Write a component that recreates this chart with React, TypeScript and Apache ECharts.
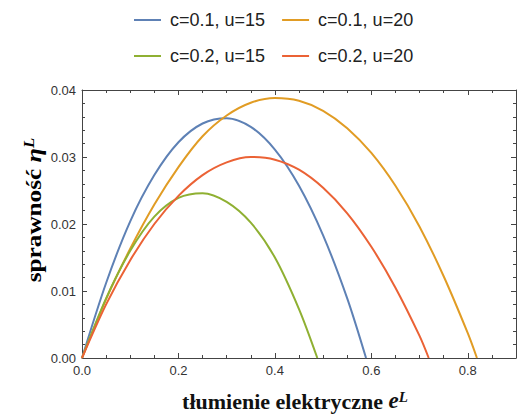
import React, { useEffect, useRef } from 'react';
import * as echarts from 'echarts';

const seriesNames = ['c=0.1, u=15', 'c=0.1, u=20', 'c=0.2, u=15', 'c=0.2, u=20'];
const seriesColors = ['#5E81B5', '#E19C24', '#8FB032', '#EB6235'];

// c=0.1, u=15
const eBlue = [0, 0.05, 0.1, 0.15, 0.2, 0.25, 0.3, 0.35, 0.4, 0.45, 0.5, 0.55, 0.589];
const etaBlue = [0, 0.0112, 0.0204, 0.0273, 0.0322, 0.035, 0.0358, 0.0345, 0.0311, 0.0257, 0.0183, 0.0089, 0];
// c=0.1, u=20
const eOrange = [0, 0.05, 0.1, 0.15, 0.2, 0.25, 0.3, 0.35, 0.4, 0.45, 0.5, 0.55, 0.6, 0.65, 0.7, 0.75, 0.8, 0.819];
const etaOrange = [0, 0.0088, 0.0163, 0.0229, 0.0285, 0.0331, 0.0362, 0.0381, 0.0388, 0.0384, 0.0369, 0.0343, 0.0306, 0.0257, 0.0196, 0.0122, 0.0037, 0];
// c=0.2, u=15
const eGreen = [0, 0.05, 0.1, 0.15, 0.2, 0.25, 0.3, 0.35, 0.4, 0.45, 0.488];
const etaGreen = [0, 0.0089, 0.016, 0.0211, 0.0239, 0.0246, 0.0233, 0.0202, 0.015, 0.0073, 0];
// c=0.2, u=20
const eRed = [0, 0.05, 0.1, 0.15, 0.2, 0.25, 0.3, 0.35, 0.4, 0.45, 0.5, 0.55, 0.6, 0.65, 0.7, 0.719];
const etaRed = [0, 0.008, 0.0146, 0.02, 0.0242, 0.0273, 0.0292, 0.03, 0.0296, 0.0281, 0.0254, 0.0216, 0.0166, 0.0105, 0.0033, 0];

const xValues = [eBlue, eOrange, eGreen, eRed];
const yValues = [etaBlue, etaOrange, etaGreen, etaRed];

const xMin = 0;
const xMax = 0.9;
const xMajor = 0.2;
const xMinor = 0.05;
const yMin = 0;
const yMax = 0.04;
const yMajor = 0.01;

const xTitle = '{t|tłumienie elektryczne }{e|e}{s|L}';
const yTitle = '{t|sprawność }{e|η}{s|L}';

export default function App() {
  const ref = useRef<HTMLDivElement>(null);
  useEffect(() => {
    document.body.style.margin = '0';
    const chart = echarts.init(ref.current!, null, { renderer: 'svg' });
    const frame = '#444';
    const sans = '"Liberation Sans", Arial, sans-serif';
    const serif = '"Liberation Serif", "Times New Roman", serif';
    const makeRich = (size: number) => ({
      t: { fontFamily: serif, fontWeight: 'bold', fontSize: size, color: '#111', verticalAlign: 'bottom' },
      e: { fontFamily: serif, fontWeight: 'bold', fontStyle: 'italic', fontSize: size + 1, color: '#111', verticalAlign: 'bottom' },
      s: { fontFamily: serif, fontWeight: 'bold', fontStyle: 'italic', fontSize: Math.round(size * 0.68), color: '#111', verticalAlign: 'top' },
    });
    const line = { show: true, onZero: false, lineStyle: { color: frame, width: 1 } };
    const noLine = { show: false, onZero: false };
    const majorTick = { show: true, inside: true, length: 5, lineStyle: { color: frame, width: 1 } };
    const minorTickAx = { show: true, inside: true, length: 3, lineStyle: { color: frame, width: 1 } };
    const xCommon = { type: 'value', min: xMin, max: xMax, splitLine: { show: false } };
    const yCommon = { type: 'value', min: yMin, max: yMax, interval: yMajor, splitLine: { show: false } };
    const legendCommon = {
      left: 129,
      itemWidth: 27,
      itemHeight: 2,
      itemGap: 17,
      icon: 'rect',
      selectedMode: false,
      textStyle: { fontSize: 18, fontFamily: sans, color: '#222', padding: [0, 0, 0, 4] },
    };
    chart.setOption({
      animation: false,
      backgroundColor: '#fff',
      grid: { left: 82, right: 4, top: 90, bottom: 59, containLabel: false },
      legend: [
        { ...legendCommon, top: 6, data: [seriesNames[0], seriesNames[1]] },
        { ...legendCommon, top: 42, data: [seriesNames[2], seriesNames[3]] },
      ],
      graphic: [
        {
          type: 'text',
          x: 33,
          y: 210,
          rotation: Math.PI / 2,
          scaleX: 1.2,
          style: { text: yTitle, rich: makeRich(21), align: 'center', verticalAlign: 'middle' },
        },
      ],
      xAxis: [
        {
          ...xCommon,
          position: 'bottom',
          interval: xMajor,
          axisLine: line,
          axisTick: majorTick,
          axisLabel: {
            formatter: (v: number) => v.toFixed(1),
            showMaxLabel: false,
            margin: 6,
            fontSize: 13,
            fontFamily: sans,
            color: '#333',
          },
          name: xTitle,
          nameLocation: 'middle',
          nameGap: 31,
          nameTextStyle: { rich: makeRich(22), padding: [0, 8, 0, 0] },
        },
        { ...xCommon, position: 'bottom', interval: xMinor, axisLine: noLine, axisTick: minorTickAx, axisLabel: { show: false } },
        { ...xCommon, position: 'top', interval: xMajor, axisLine: line, axisTick: majorTick, axisLabel: { show: false } },
        { ...xCommon, position: 'top', interval: xMinor, axisLine: noLine, axisTick: minorTickAx, axisLabel: { show: false } },
      ],
      yAxis: [
        {
          ...yCommon,
          position: 'left',
          axisLine: line,
          axisTick: majorTick,
          minorTick: { show: true, splitNumber: 5, length: 3, lineStyle: { color: frame, width: 1 } },
          minorSplitLine: { show: false },
          axisLabel: {
            formatter: (v: number) => v.toFixed(2),
            margin: 6,
            fontSize: 13,
            fontFamily: sans,
            color: '#333',
          },
        },
        {
          ...yCommon,
          position: 'right',
          axisLine: line,
          axisTick: majorTick,
          minorTick: { show: true, splitNumber: 5, length: 3, lineStyle: { color: frame, width: 1 } },
          minorSplitLine: { show: false },
          axisLabel: { show: false },
        },
      ],
      series: seriesNames.map((name, i) => ({
        type: 'line',
        name,
        xAxisIndex: 0,
        yAxisIndex: 0,
        symbol: 'none',
        smooth: 0.3,
        data: xValues[i].map((x, j) => [x, yValues[i][j]]),
        lineStyle: { color: seriesColors[i], width: 2 },
        itemStyle: { color: seriesColors[i] },
      })),
    });
    return () => chart.dispose();
  }, []);
  return <div ref={ref} style={{ width: 520, height: 417 }} />;
}
